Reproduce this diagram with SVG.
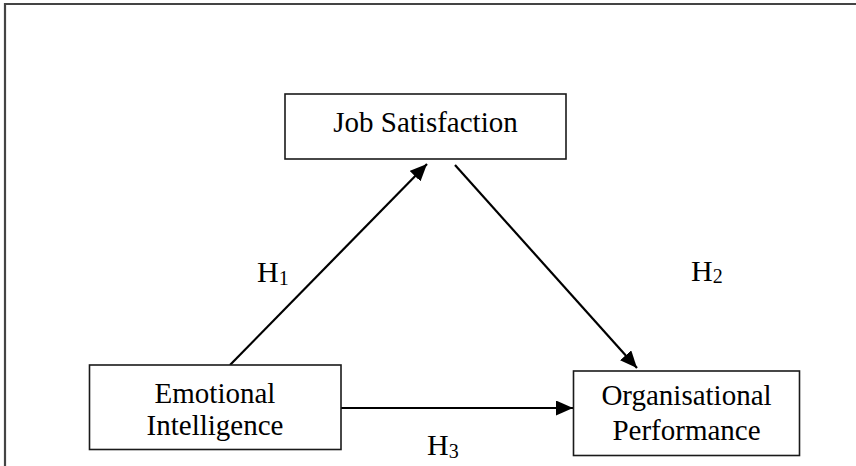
<svg xmlns="http://www.w3.org/2000/svg" width="856" height="466" viewBox="0 0 856 466">
<style>
.box{fill:#fff;stroke:#1a1a1a;stroke-width:1.6}
.lbl{font-family:"Liberation Serif","Times New Roman",serif;font-size:29px;fill:#000;text-anchor:middle}
.h{font-family:"Liberation Serif","Times New Roman",serif;font-size:30px;fill:#000}
.sub{font-size:20px}
.con{stroke:#000;stroke-width:2.2;fill:none;marker-end:url(#arr)}
.frame{stroke:#444;stroke-width:2.2;fill:none}
</style>
<defs>
<marker id="arr" markerUnits="userSpaceOnUse" markerWidth="18" markerHeight="16" refX="17" refY="7.5" orient="auto">
<path d="M0,0 L17,7.5 L0,15 z" fill="#000"/>
</marker>
</defs>
<g id="frame">
<polyline class="frame" points="5,466 5,4 856,4"/>
</g>
<g id="connectors">
<line id="c-h1" class="con" x1="230" y1="365" x2="427" y2="164"/>
<line id="c-h2" class="con" x1="455" y1="165" x2="637" y2="368"/>
<line id="c-h3" class="con" x1="341" y1="408" x2="573" y2="408"/>
</g>
<g id="node-js">
<rect class="box" x="285" y="94" width="281" height="65"/>
<text class="lbl" x="425.5" y="132">Job Satisfaction</text>
</g>
<g id="node-ei">
<rect class="box" x="89.5" y="365" width="251.5" height="84.5"/>
<text class="lbl" x="215" y="403">Emotional</text>
<text class="lbl" x="215" y="435">Intelligence</text>
</g>
<g id="node-op">
<rect class="box" x="573.5" y="371" width="226" height="84.5"/>
<text class="lbl" x="686.5" y="405">Organisational</text>
<text class="lbl" x="686.5" y="440">Performance</text>
</g>
<g id="labels">
<text class="h" x="257" y="282">H<tspan class="sub" dy="3">1</tspan></text>
<text class="h" x="691" y="281">H<tspan class="sub" dy="2">2</tspan></text>
<text class="h" x="427" y="455">H<tspan class="sub" dy="3">3</tspan></text>
</g>
</svg>
